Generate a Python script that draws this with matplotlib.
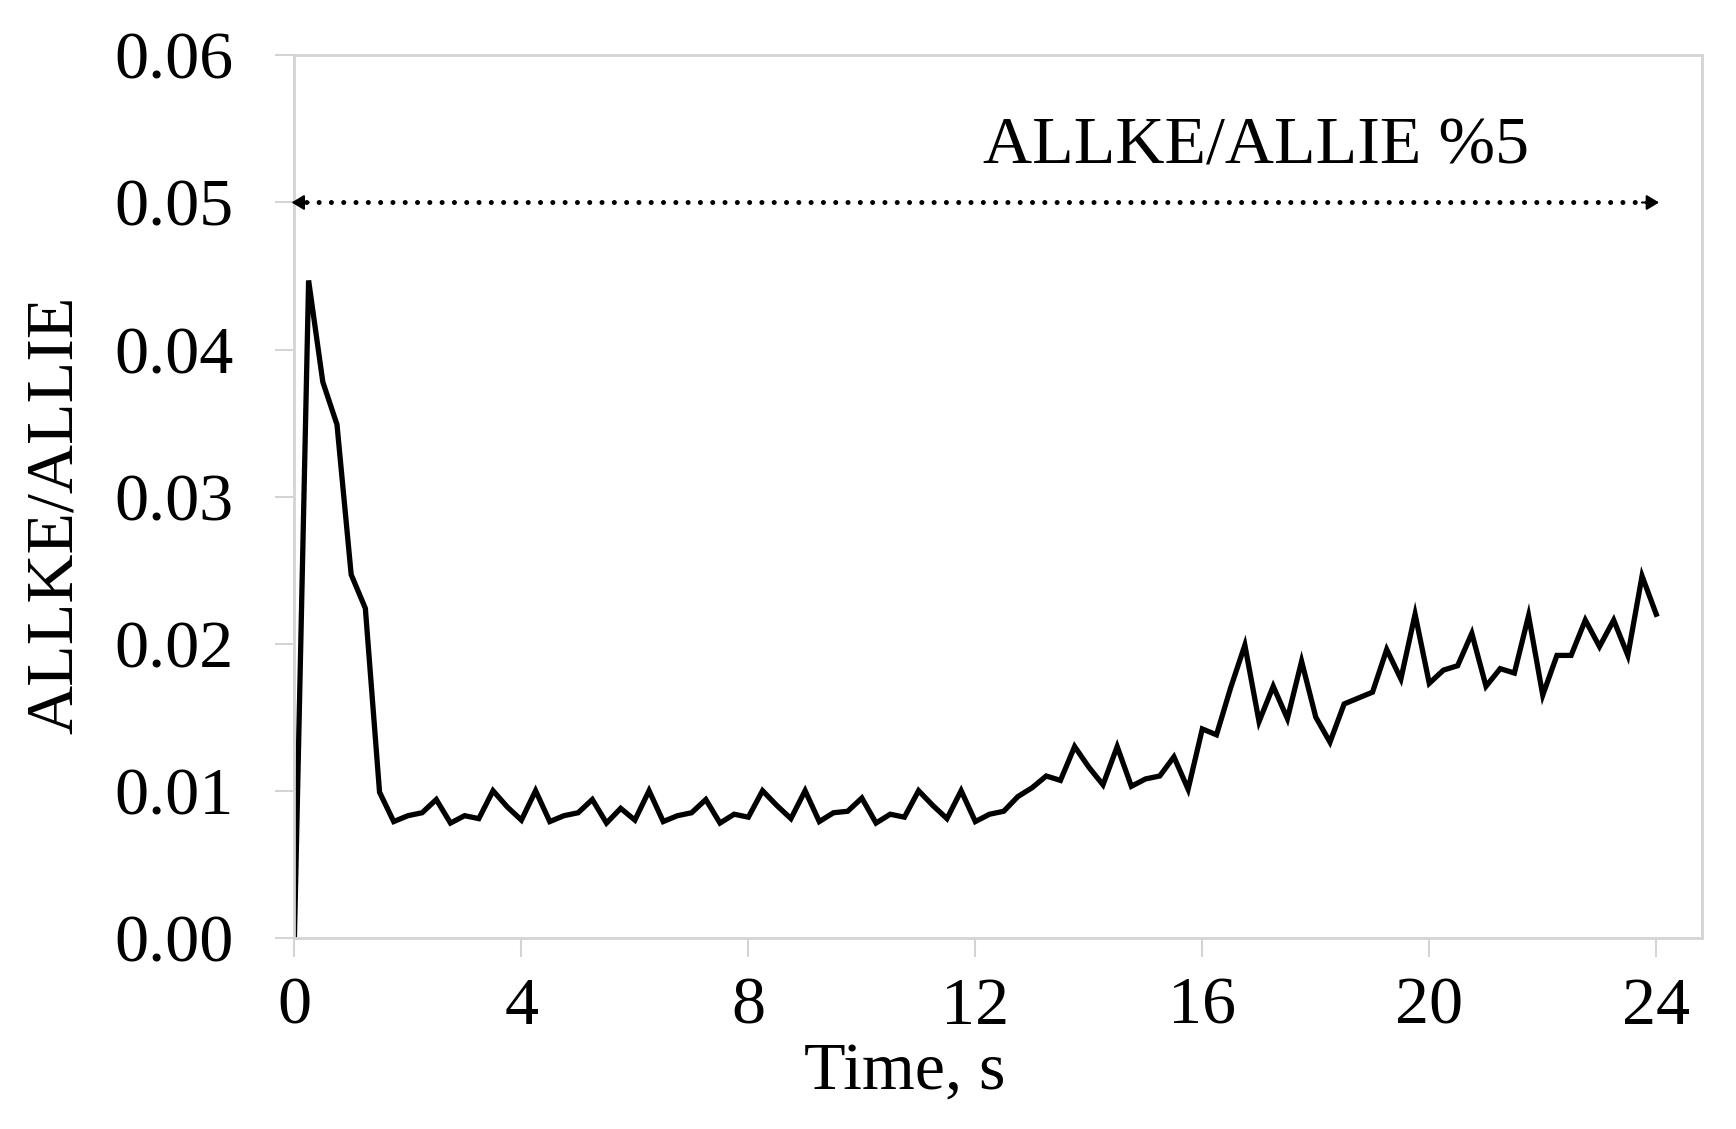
import matplotlib
matplotlib.use("Agg")
import matplotlib.pyplot as plt

# time (s) and ALLKE/ALLIE ratio
time_s = [0.0, 0.25, 0.5, 0.75, 1.0, 1.25, 1.5, 1.75, 2.0, 2.25, 2.5, 2.75,
          3.0, 3.25, 3.5, 3.75, 4.0, 4.25, 4.5, 4.75, 5.0, 5.25, 5.5, 5.75,
          6.0, 6.25, 6.5, 6.75, 7.0, 7.25, 7.5, 7.75, 8.0, 8.25, 8.5, 8.75,
          9.0, 9.25, 9.5, 9.75, 10.0, 10.25, 10.5, 10.75, 11.0, 11.25, 11.5, 11.75,
          12.0, 12.25, 12.5, 12.75, 13.0, 13.25, 13.5, 13.75, 14.0, 14.25, 14.5, 14.75,
          15.0, 15.25, 15.5, 15.75, 16.0, 16.25, 16.5, 16.75, 17.0, 17.25, 17.5, 17.75,
          18.0, 18.25, 18.5, 18.75, 19.0, 19.25, 19.5, 19.75, 20.0, 20.25, 20.5, 20.75,
          21.0, 21.25, 21.5, 21.75, 22.0, 22.25, 22.5, 22.75, 23.0, 23.25, 23.5, 23.75,
          24.0]
ratio = [0.0, 0.0447, 0.0378, 0.0349, 0.0247, 0.0224, 0.0099, 0.0079, 0.0083, 0.0085, 0.0094, 0.0078,
         0.0083, 0.0081, 0.0100, 0.0089, 0.0080, 0.0100, 0.0079, 0.0083, 0.0085, 0.0094, 0.0078, 0.0088,
         0.0080, 0.0100, 0.0079, 0.0083, 0.0085, 0.0094, 0.0078, 0.0084, 0.0082, 0.0100, 0.0090, 0.0081,
         0.0100, 0.0079, 0.0085, 0.0086, 0.0095, 0.0078, 0.0084, 0.0082, 0.0100, 0.0090, 0.0081, 0.0100,
         0.0079, 0.0084, 0.0086, 0.0096, 0.0102, 0.0110, 0.0107, 0.0130, 0.0116, 0.0104, 0.0130, 0.0103,
         0.0108, 0.0110, 0.0123, 0.0101, 0.0142, 0.0138, 0.0170, 0.0199, 0.0147, 0.0171, 0.0149, 0.0188,
         0.0150, 0.0133, 0.0159, 0.0163, 0.0167, 0.0196, 0.0176, 0.0220, 0.0173, 0.0182, 0.0185, 0.0207,
         0.0171, 0.0183, 0.0180, 0.0219, 0.0165, 0.0192, 0.0192, 0.0216, 0.0198, 0.0216, 0.0192, 0.0246,
         0.0220]

limit = 0.05          # 5 % threshold
limit_span = [0, 24]
x_ticks = [0, 4, 8, 12, 16, 20, 24]
y_ticks = [0.00, 0.01, 0.02, 0.03, 0.04, 0.05, 0.06]

plt.rcParams["font.family"] = ["Liberation Serif", "DejaVu Serif"]
FS = 49
GRAY = "#d4d4d4"

fig = plt.figure(figsize=(17.36, 11.29), dpi=100)
ax = fig.add_axes([0.1696, 0.1694, 0.8106, 0.7815])

ax.plot(time_s, ratio, color="black", lw=3.8, solid_joinstyle="miter")

# dotted 5% limit with small arrow heads at both ends
ax.plot(limit_span, [limit, limit], color="black", lw=3.6,
        dashes=(0.01, 2.45), dash_capstyle="round")
for x0, x1 in [(limit_span[1] - 0.3, limit_span[1] + 0.1), (limit_span[0] + 0.3, limit_span[0] - 0.1)]:
    ax.annotate("", xy=(x1, limit), xytext=(x0, limit), annotation_clip=False,
                arrowprops=dict(arrowstyle="-|>,head_length=0.5,head_width=0.3",
                                color="black", lw=1.5, mutation_scale=15))
ax.text(16.95, 0.0538, "ALLKE/ALLIE %5", fontsize=FS, ha="center", va="center")

ax.set_xlim(0, 24.8)
ax.set_ylim(0, 0.06)
ax.set_xticks(x_ticks)
ax.set_xticklabels([str(t) for t in x_ticks])
ax.set_yticks(y_ticks)
ax.set_yticklabels([f"{t:.2f}" for t in y_ticks])

for s in ax.spines.values():
    s.set_color(GRAY)
    s.set_linewidth(2)
ax.tick_params(axis="both", colors=GRAY, labelcolor="black", labelsize=FS,
               length=14, width=1.5, direction="out")
ax.tick_params(axis="y", pad=30)
ax.tick_params(axis="x", pad=14)

ax.text(-0.170, 0.479, "ALLKE/ALLIE", rotation=90, fontsize=FS,
        ha="center", va="center", transform=ax.transAxes)
ax.text(0.434, -0.152, "Time, s", fontsize=FS, ha="center", va="center",
        transform=ax.transAxes)

fig.savefig("out.png", dpi=100)
